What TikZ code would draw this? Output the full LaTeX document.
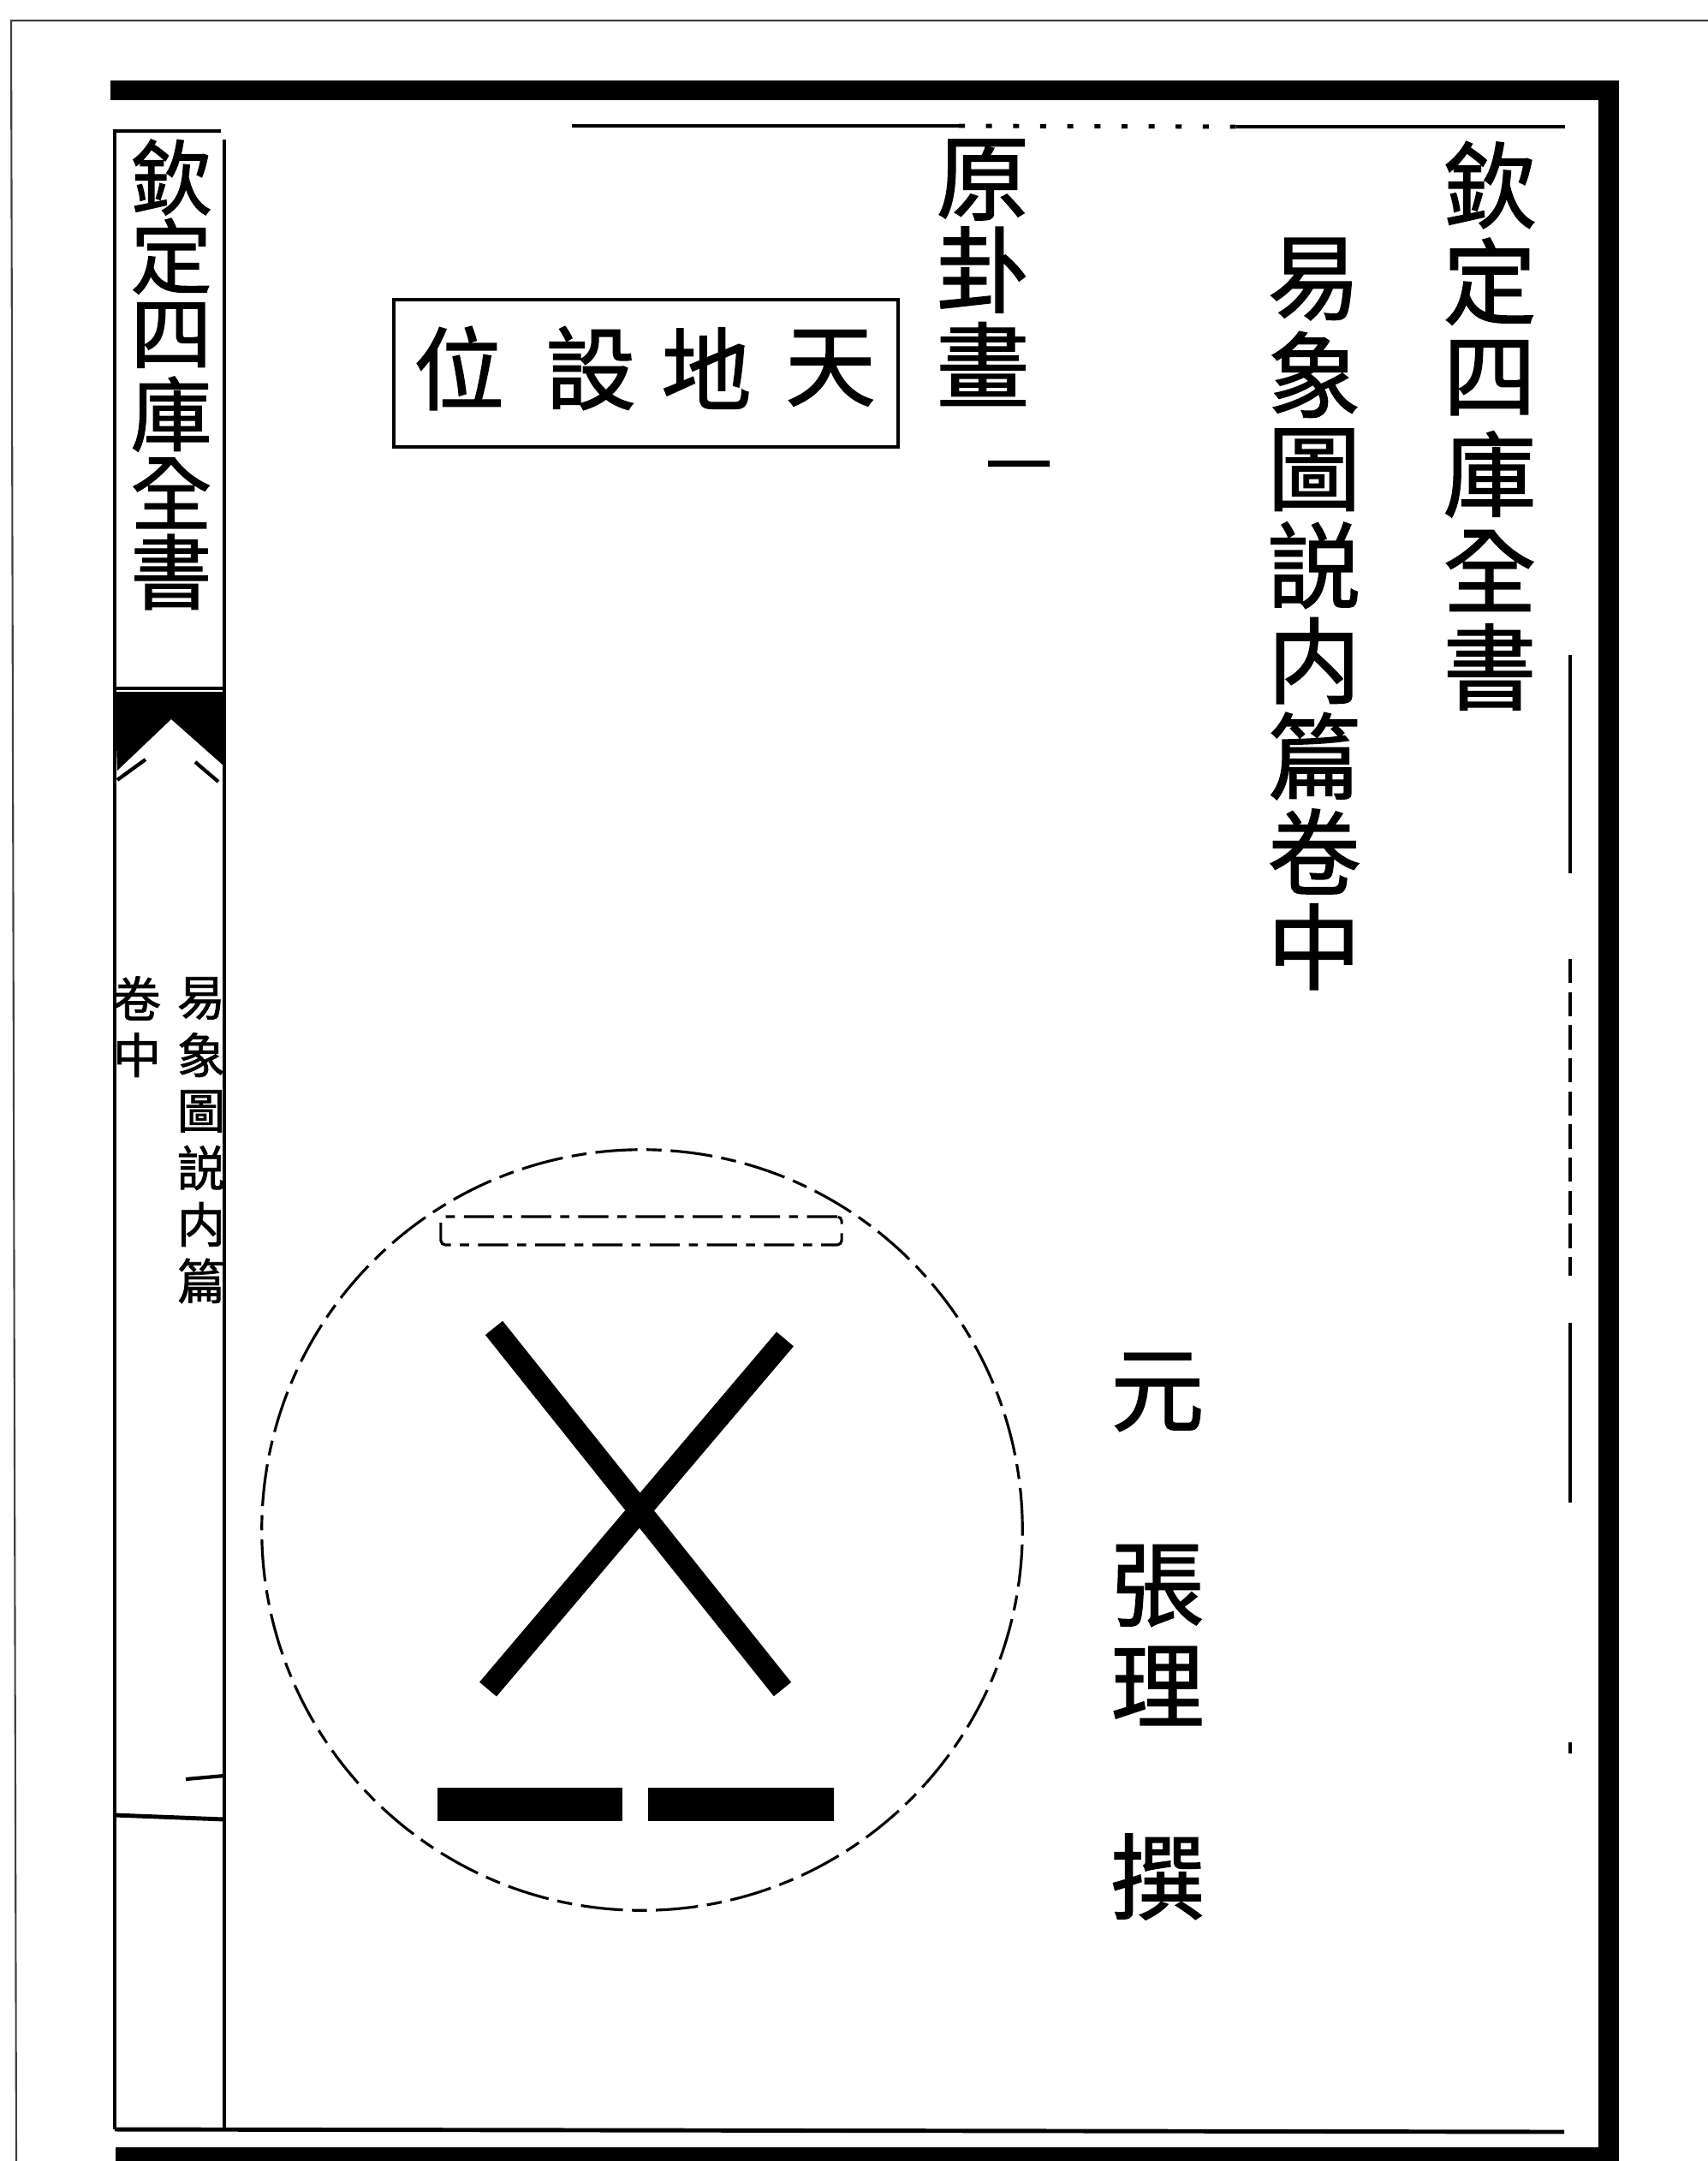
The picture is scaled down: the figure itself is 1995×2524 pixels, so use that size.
\documentclass[tikz,border=0pt]{standalone}
\usepackage{fontspec}
\newfontfamily\cjk{Noto Sans CJK TC}[AutoFakeBold=1.4]
\begin{document}
\begin{tikzpicture}[x=0.01cm,y=-0.01cm,
  bigchar/.style={font=\cjk\bfseries\fontsize{31}{31}\selectfont, inner sep=0pt},
  spinechar/.style={font=\cjk\bfseries\fontsize{27}{27}\selectfont, inner sep=0pt},
  smallchar/.style={font=\cjk\bfseries\fontsize{16}{16}\selectfont, inner sep=0pt},
  boxchar/.style={font=\cjk\bfseries\fontsize{30}{30}\selectfont, inner sep=0pt},
  onechar/.style={font=\cjk\bfseries\fontsize{22}{22}\selectfont, inner sep=0pt},
  thinrule/.style={line width=1.4pt},
  hairline/.style={line width=0.6pt, black!75},
  dashring/.style={line width=0.9pt, dash pattern=on 14pt off 3pt on 5pt off 3pt},
  stroke/.style={line width=7.4pt},
  yinbar/.style={fill=black, inner sep=0pt, minimum width=2.16cm, minimum height=0.39cm},
]
\useasboundingbox (0,0) rectangle (1995,2524);
\fill[white] (0,0) rectangle (1995,2524);

% outer hairline of the scanned page
\coordinate (o1) at (1995,24);
\coordinate (o2) at (13,24);
\coordinate (o3) at (19,2524);
\draw[hairline] (o1) -- (o2) -- (o3);

% thick frame
\fill (129,94) rectangle (1891,117);
\fill (1867,94) rectangle (1891,2524);
\fill (135,2508) rectangle (1891,2524);

% inner rules
\draw[thinrule] (668,147) -- (1120,147);
\draw[thinrule, dash pattern=on 2pt off 7pt] (1120,147) -- (1444,148);
\draw[thinrule] (1444,148) -- (1828,148);
\draw[thinrule] (134,2487) -- (1827,2490);
\draw[line width=1.3pt] (1834,765) -- (1834,1020);
\draw[line width=1.3pt, dash pattern=on 8pt off 3pt] (1834,1120) -- (1834,1490);
\draw[line width=1.3pt] (1834,1545) -- (1834,1755);
\draw[line width=1.3pt] (1834,2035) -- (1834,2048);

% spine column
\draw[thinrule] (134,2487) -- (134,153) -- (258,153);
\draw[thinrule] (262,163) -- (262,2487);
\draw[thinrule] (134,804) -- (262,804);
\fill (134,808) -- (262,808) -- (262,895) -- (200,840) -- (137,900) -- cycle;
\draw[line width=1.2pt] (137,911) -- (170,887);
\draw[line width=1.2pt] (228,890) -- (255,913);
\draw[line width=1.2pt] (217,2078) -- (262,2074);
\draw[thinrule] (134,2120) -- (262,2125);

\foreach \c [count=\i from 0] in {欽,定,四,庫,全,書}
  \node[spinechar] (s\i) at (200,{207+92.2*\i}) {\c};
\foreach \c [count=\i from 0] in {易,象,圖,説,内,篇}
  \node[smallchar] (m\i) at (235,{1166+66*\i}) {\c};
\foreach \c [count=\i from 0] in {卷,中}
  \node[smallchar] (v\i) at (160,{1166+66*\i}) {\c};

% main title columns
\foreach \c [count=\i from 0] in {欽,定,四,庫,全,書}
  \node[bigchar] (a\i) at (1740,{216+112.6*\i}) {\c};
\foreach \c [count=\i from 0] in {易,象,圖,説,内,篇,卷,中}
  \node[bigchar] (b\i) at (1535,{326+111.4*\i}) {\c};
\node[bigchar] (c0) at (1148,210) {原};
\node[bigchar] (c1) at (1148,315) {卦};
\node[bigchar] (c2) at (1148,425) {畫};
\node[onechar] (c3) at (1190,555) {一};

% boxed heading (read right to left)
\node[draw, line width=1.2pt, inner sep=0pt, minimum width=5.89cm, minimum height=1.72cm] (tdbox) at (754.5,436) {};
\node[boxchar] (d0) at (970,430) {天};
\node[boxchar] (d1) at (825,430) {地};
\node[boxchar] (d2) at (690,430) {設};
\node[boxchar] (d3) at (536,430) {位};

% author
\node[bigchar] (e0) at (1352,1626) {元};
\node[bigchar] (e1) at (1352,1852) {張};
\node[bigchar] (e2) at (1352,1969) {理};
\node[bigchar] (e3) at (1352,2192) {撰};

% diagram
\node[draw, circle, dashring, inner sep=0pt, minimum size=8.88cm] (ring) at (750,1787) {};
\node[draw, line width=0.9pt, dash pattern=on 10pt off 3pt on 3pt off 3pt, rounded corners=1.5pt, inner sep=0pt, minimum width=4.68cm, minimum height=0.33cm] (topbar) at (749,1437.5) {};
\coordinate (xa1) at (577,1551);
\coordinate (xa2) at (914,1973);
\coordinate (xb1) at (917,1564);
\coordinate (xb2) at (570,1973);
\draw[stroke] (xa1) -- (xa2);
\draw[stroke] (xb1) -- (xb2);
\node[yinbar] (yin1) at (619,2107.5) {};
\node[yinbar] (yin2) at (865.5,2107.5) {};
\end{tikzpicture}
\end{document}
